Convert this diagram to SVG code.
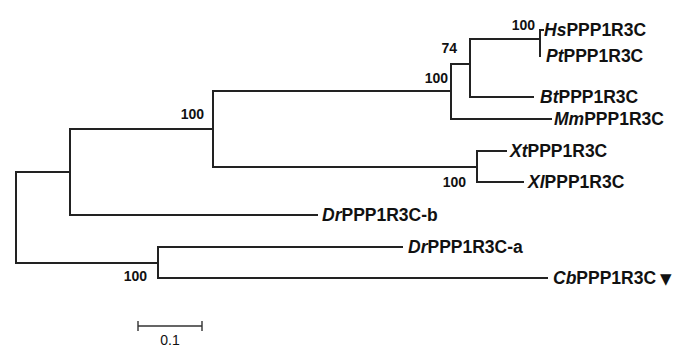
<svg xmlns="http://www.w3.org/2000/svg" width="683" height="351" viewBox="0 0 683 351">
<style>
.br{stroke:#222;stroke-width:2;fill:none;stroke-linecap:square}
.lf{font-family:"Liberation Sans",Arial,sans-serif;font-weight:bold;font-size:17.5px;fill:#111}
.bs{font-family:"Liberation Sans",Arial,sans-serif;font-weight:bold;font-size:14px;fill:#111;text-anchor:end}
.it{font-style:italic}
.sc{font-family:"Liberation Sans",Arial,sans-serif;font-size:14px;fill:#111;text-anchor:middle}
.sb{stroke:#333;stroke-width:1.4;fill:none}
</style>
<rect width="683" height="351" fill="#fff"/>
<g id="connectors">
<path class="br" d="M16,172V263"/>
<path class="br" d="M16,172H70M70,129V215"/>
<path class="br" d="M70,129H213M213,91V167"/>
<path class="br" d="M213,91H451M451,64V119"/>
<path class="br" d="M451,64H470M470,39V97"/>
<path class="br" d="M470,39H540M540,30V56"/>
<path class="br" d="M540,30H543"/>
<path class="br" d="M470,97H533"/>
<path class="br" d="M451,119H551"/>
<path class="br" d="M213,167H477M477,151V182"/>
<path class="br" d="M477,151H506"/>
<path class="br" d="M477,182H523"/>
<path class="br" d="M70,215H317"/>
<path class="br" d="M16,263H158M158,247V278"/>
<path class="br" d="M158,247H402"/>
<path class="br" d="M158,278H547"/>
</g>
<g id="leaf-hs"><text class="lf" x="544" y="36"><tspan class="it">Hs</tspan>PPP1R3C</text></g>
<g id="leaf-pt"><text class="lf" x="546" y="62"><tspan class="it">Pt</tspan>PPP1R3C</text></g>
<g id="leaf-bt"><text class="lf" x="540" y="103"><tspan class="it">Bt</tspan>PPP1R3C</text></g>
<g id="leaf-mm"><text class="lf" x="554" y="125"><tspan class="it">Mm</tspan>PPP1R3C</text></g>
<g id="leaf-xt"><text class="lf" x="510" y="157"><tspan class="it">Xt</tspan>PPP1R3C</text></g>
<g id="leaf-xl"><text class="lf" x="528" y="188"><tspan class="it">Xl</tspan>PPP1R3C</text></g>
<g id="leaf-drb"><text class="lf" x="322" y="221"><tspan class="it">Dr</tspan>PPP1R3C-b</text></g>
<g id="leaf-dra"><text class="lf" x="408" y="253"><tspan class="it">Dr</tspan>PPP1R3C-a</text></g>
<g id="leaf-cb"><text class="lf" x="553" y="284"><tspan class="it">Cb</tspan>PPP1R3C<tspan font-family="DejaVu Sans,sans-serif" font-size="15" dx="4">▼</tspan></text></g>
<g id="bootstrap">
<text class="bs" x="204" y="119">100</text>
<text class="bs" x="448" y="83">100</text>
<text class="bs" x="457" y="53">74</text>
<text class="bs" x="535" y="30">100</text>
<text class="bs" x="466" y="187">100</text>
<text class="bs" x="147" y="281">100</text>
</g>
<g id="scale">
<path class="sb" d="M138,326H202M138,321V331M202,321V331"/>
<text class="sc" x="170" y="345">0.1</text>
</g>
</svg>
